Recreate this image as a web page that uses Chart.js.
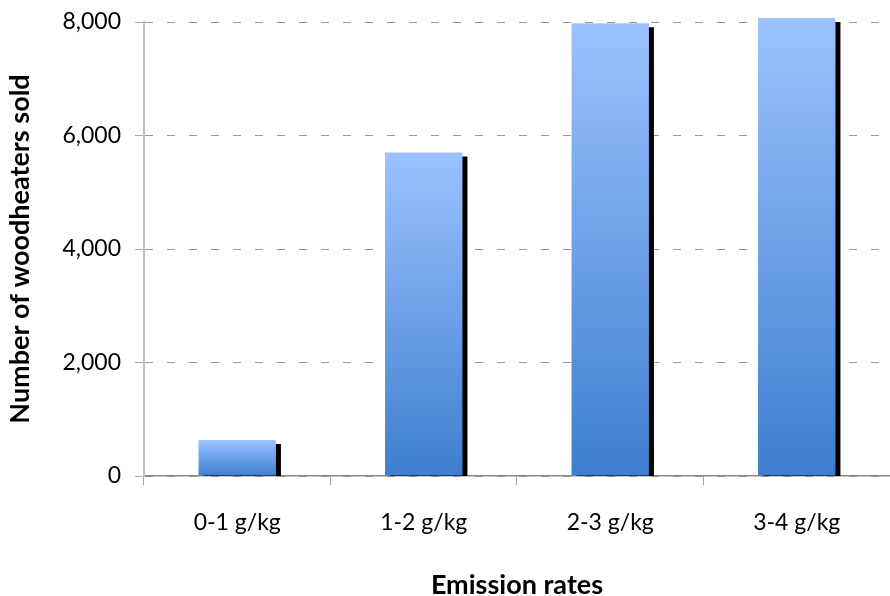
<!DOCTYPE html>
<html>
<head>
<meta charset="utf-8">
<script src="https://cdn.jsdelivr.net/npm/chart.js@4"></script>
<style>
  html, body { margin: 0; padding: 0; background: #fff; }
  #wrap { width: 890px; height: 596px; }
</style>
</head>
<body>
<div id="wrap"><canvas id="chart"></canvas></div>
<script>
// ============ DATA ============

const categories = ['0-1 g/kg', '1-2 g/kg', '2-3 g/kg', '3-4 g/kg'];
const woodheatersSold = [635, 5700, 7980, 8070];
const yTicks = [0, 2000, 4000, 6000, 8000];

const xTitle = 'Emission rates';
const yTitle = 'Number of woodheaters sold';

// ============ HELPERS ============

function formatThousands(value) {
  return new Intl.NumberFormat('en-US').format(value);
}

// gradient per bar: light on top, darker at the base
function barGradient(context) {
  const chart = context.chart;
  const yScale = chart.scales.y;
  if (!chart.chartArea || !yScale) return '#6a9ee8';
  const top = yScale.getPixelForValue(context.raw);
  const base = yScale.getPixelForValue(0);
  const g = chart.ctx.createLinearGradient(0, top, 0, base);
  g.addColorStop(0, '#9cc2ff');
  g.addColorStop(1, '#3e7ecf');
  return g;
}

// black drop shadow on each bar, like the old spreadsheet look
const barShadow = {
  id: 'barShadow',
  beforeDatasetDraw(chart) {
    const ctx = chart.ctx;
    ctx.save();
    ctx.shadowColor = '#000';
    ctx.shadowBlur = 0;
    ctx.shadowOffsetX = 5;
    ctx.shadowOffsetY = 4;
  },
  afterDatasetDraw(chart) {
    chart.ctx.restore();
  }
};

// ============ CHART ============

const tickFont = { family: 'Lato, "Open Sans", sans-serif', size: 23 };
const titleFont = { family: 'Lato, "Open Sans", sans-serif', size: 27, weight: 'bold' };

new Chart(document.getElementById('chart'), {
  type: 'bar',
  data: {
    labels: categories,
    datasets: [{
      data: woodheatersSold,
      backgroundColor: barGradient,
      borderWidth: 0,
      barPercentage: 0.83,
      categoryPercentage: 0.5,
      clip: { left: 10, top: 20, right: 10, bottom: 0 }
    }]
  },
  options: {
    responsive: true,
    maintainAspectRatio: false,
    animation: false,
    layout: {
      padding: { top: 22, right: -8, bottom: -5, left: 4 }
    },
    plugins: {
      legend: { display: false },
      tooltip: { enabled: false }
    },
    scales: {
      x: {
        grid: {
          offset: true,
          drawOnChartArea: false,
          drawTicks: true,
          tickLength: 9,
          tickColor: '#a6a6a6',
          tickWidth: 1
        },
        border: { color: '#8c8c8c', width: 1.5 },
        ticks: {
          color: '#000',
          font: tickFont,
          padding: 24
        },
        title: {
          display: true,
          text: xTitle,
          color: '#000',
          font: titleFont,
          padding: { top: 8, bottom: 0 }
        }
      },
      y: {
        min: 0,
        max: 8000,
        afterBuildTicks: (scale) => {
          scale.ticks = yTicks.map(v => ({ value: v }));
        },
        afterFit: (scale) => {
          scale.paddingTop = 0;
        },
        grid: {
          color: '#999999',
          lineWidth: 1,
          drawTicks: true,
          tickLength: 9,
          tickColor: '#a6a6a6',
          tickWidth: 1,
          tickBorderDash: [0, 0]
        },
        border: { color: '#c0c0c0', width: 2, dash: [8, 14] },
        ticks: {
          color: '#000',
          font: tickFont,
          padding: 14,
          callback: (value) => formatThousands(value)
        },
        title: {
          display: true,
          text: yTitle,
          color: '#000',
          font: titleFont,
          padding: { top: 0, bottom: 12 }
        }
      }
    }
  },
  plugins: [barShadow]
});
</script>
</body>
</html>
